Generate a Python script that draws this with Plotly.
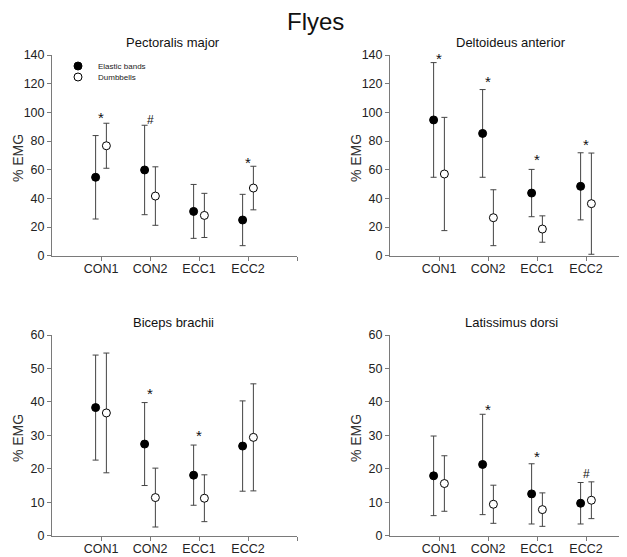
import plotly.graph_objects as go

# the page body adds an 8px margin; draw in a figure that fills the rest
OFF = 8
W, H = 627 - OFF, 557 - OFF

categories = ["CON1", "CON2", "ECC1", "ECC2"]
cat_pos = [1, 2, 3, 4]

panel_titles = ["Pectoralis major", "Deltoideus anterior", "Biceps brachii", "Latissimus dorsi"]
y_max = [140, 140, 60, 60]
y_dtick = [20, 20, 10, 10]

# Elastic bands (filled) means and SD
elastic_mean = [
    [54.7, 59.8, 30.9, 24.9],
    [94.7, 85.3, 43.7, 48.4],
    [38.3, 27.4, 18.1, 26.8],
    [17.9, 21.3, 12.5, 9.7],
]
elastic_sd = [
    [29.1, 31.2, 18.8, 17.9],
    [40.0, 30.6, 16.5, 23.4],
    [15.7, 12.4, 9.0, 13.5],
    [11.9, 15.0, 9.0, 6.2],
]
# Dumbbells (open) means and SD
dumbbell_mean = [
    [76.7, 41.6, 28.1, 47.2],
    [57.0, 26.5, 18.6, 36.3],
    [36.7, 11.4, 11.2, 29.4],
    [15.6, 9.4, 7.8, 10.6],
]
dumbbell_sd = [
    [15.7, 20.4, 15.4, 15.2],
    [39.5, 19.5, 9.2, 35.3],
    [17.9, 8.8, 7.0, 16.0],
    [8.3, 5.7, 5.0, 5.5],
]
# significance markers: category index, y value, symbol
sig_cat = [[1, 2, 4], [1, 2, 3, 4], [2, 3], [2, 3, 4]]
sig_y = [[99.5, 94.7, 68], [140, 124, 70, 80.7], [43.8, 31.1], [38.8, 24.9, 18.3]]
sig_txt = [["*", "#", "*"], ["*", "*", "*", "*"], ["*", "*"], ["*", "*", "#"]]

# layout (pixel geometry in window coordinates)
px_left = [52, 390, 52, 390]
px_top = [55, 55, 335, 335]
px_bottom = [255.7, 255.7, 535.7, 535.7]
unit_px = 49.0
offset = 0.11


def px_x(p):
    return (p - OFF) / W


def px_y(p):
    return (H - (p - OFF)) / H


FONT = "Liberation Sans, Arial, sans-serif"
AXIS_COLOR = "#7a7a7a"
ERR_COLOR = "#444444"

fig = go.Figure()
layout = dict(
    width=W, height=H, margin=dict(l=0, r=0, t=0, b=0, autoexpand=False),
    paper_bgcolor="white", plot_bgcolor="white",
    font=dict(family=FONT, color="#222222"),
    showlegend=True,
)
annotations = []

for i in range(4):
    ax = "" if i == 0 else str(i + 1)
    xref = "x" + ax
    yref = "y" + ax
    x0 = px_x(px_left[i])
    x1 = min(1.0, px_x(px_left[i] + 5 * unit_px))
    xr_max = (x1 * W + OFF - px_left[i]) / unit_px
    y0 = px_y(px_bottom[i])
    y1 = px_y(px_top[i])

    fig.add_trace(go.Scatter(
        x=[c - offset for c in cat_pos], y=elastic_mean[i],
        mode="markers", name="Elastic bands",
        marker=dict(color="black", size=8, line=dict(color="black", width=1)),
        error_y=dict(type="data", array=elastic_sd[i], visible=True,
                     color=ERR_COLOR, thickness=1, width=3),
        xaxis=xref, yaxis=yref, cliponaxis=False,
        showlegend=(i == 0), legend="legend",
    ))
    fig.add_trace(go.Scatter(
        x=[c + offset for c in cat_pos], y=dumbbell_mean[i],
        mode="markers", name="Dumbbells",
        marker=dict(color="white", size=8, line=dict(color="black", width=1)),
        error_y=dict(type="data", array=dumbbell_sd[i], visible=True,
                     color=ERR_COLOR, thickness=1, width=3),
        xaxis=xref, yaxis=yref, cliponaxis=False,
        showlegend=(i == 0), legend="legend2",
    ))

    layout["xaxis" + ax] = dict(
        domain=[x0, x1], range=[0, xr_max], anchor=yref, automargin=False,
        tickvals=cat_pos + [5], ticktext=categories + [""],
        ticks="outside", ticklen=4, tickcolor=AXIS_COLOR, tickwidth=1,
        ticklabelstandoff=-3,
        showline=True, linecolor=AXIS_COLOR, linewidth=1,
        showgrid=False, zeroline=False,
        tickfont=dict(size=12.5, color="#222222"),
    )
    layout["yaxis" + ax] = dict(
        domain=[y0, y1], range=[0, y_max[i]], anchor=xref, automargin=False,
        dtick=y_dtick[i], tick0=0,
        ticks="outside", ticklen=4, tickcolor=AXIS_COLOR, tickwidth=1,
        showline=True, linecolor=AXIS_COLOR, linewidth=1,
        showgrid=False, zeroline=False,
        tickfont=dict(size=12.5, color="#222222"),
    )

    # panel title
    annotations.append(dict(
        text=panel_titles[i], xref="paper", yref="paper",
        x=px_x(px_left[i] + 121), y=px_y(px_top[i] - 13),
        xanchor="center", yanchor="middle", showarrow=False,
        font=dict(size=13, color="#111111"),
    ))
    # y title
    annotations.append(dict(
        text="% EMG", xref="paper", yref="paper",
        x=px_x(px_left[i] - 34), y=(y0 + y1) / 2 - 0.005,
        xanchor="center", yanchor="middle", textangle=-90, showarrow=False,
        font=dict(size=14, color="#333333"),
    ))
    # significance markers
    for c, yv, t in zip(sig_cat[i], sig_y[i], sig_txt[i]):
        annotations.append(dict(
            text=t, xref=xref, yref=yref, x=c, y=yv,
            xanchor="center", yanchor="middle", showarrow=False,
            yshift=-4 if t == "*" else 0,
            font=dict(size=15 if t == "*" else 12, color="#111111"),
        ))

annotations.append(dict(
    text="Flyes", xref="paper", yref="paper", x=px_x(315), y=px_y(21.5),
    xanchor="center", yanchor="middle", showarrow=False,
    font=dict(size=24, color="#111111"),
))

layout["annotations"] = annotations
layout["legend"] = dict(x=px_x(58), y=px_y(66), xanchor="left", yanchor="middle",
                        font=dict(size=8), bgcolor="rgba(0,0,0,0)", borderwidth=0)
layout["legend2"] = dict(x=px_x(58), y=px_y(77), xanchor="left", yanchor="middle",
                         font=dict(size=8), bgcolor="rgba(0,0,0,0)", borderwidth=0)
fig.update_layout(**layout)
fig.write_html("out.html")
